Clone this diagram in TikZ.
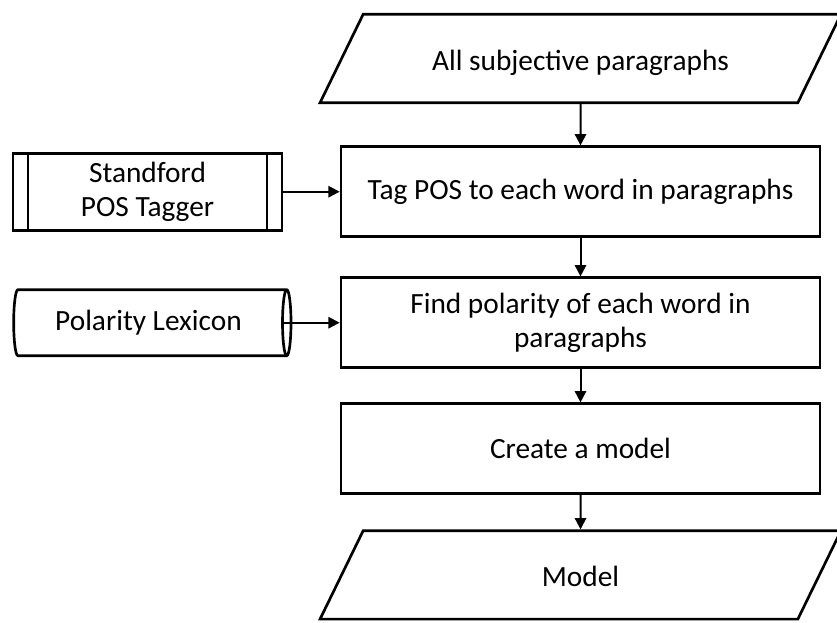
\documentclass[tikz,border=0pt]{standalone}
\usepackage{fontspec}
\setmainfont{Carlito}
\usetikzlibrary{arrows.meta,positioning,shapes.geometric}
\newcommand{\flowfont}{\fontsize{22}{26}\selectfont}
\tikzset{
  io/.style={draw,trapezium,trapezium left angle=64,trapezium right angle=116,
    text width=326pt,text height=19.75pt,text depth=1.75pt,inner xsep=0pt,inner ysep=22.4pt,
    line width=2pt,align=flush center,font=\flowfont},
  proc/.style={draw,rectangle,minimum width=359.25pt,minimum height=67.5pt,
    line width=2pt,align=center,font=\flowfont},
  subproc/.style={draw,rectangle,minimum width=201.75pt,minimum height=57.75pt,
    line width=2pt,align=center,font=\flowfont,
    path picture={
      \draw[line width=1.5pt] ([xshift=11.25pt]path picture bounding box.north west)
        -- ([xshift=11.25pt]path picture bounding box.south west);
      \draw[line width=1.5pt] ([xshift=-11.25pt]path picture bounding box.north east)
        -- ([xshift=-11.25pt]path picture bounding box.south east);}},
  store/.style={draw,cylinder,aspect=0.25,minimum height=208pt,minimum width=49.5pt,
    line width=2pt,align=center,font=\flowfont},
  arrow/.style={-{Triangle[length=8.5pt,width=8.5pt]},line width=1.5pt}
}
\begin{document}
\begin{tikzpicture}[x=0.75pt,y=0.75pt]
  \useasboundingbox (0,0) rectangle (837,-622);
  \node[io] (inp) at (580.5,-58.5) {All subjective paragraphs};
  \node[proc,below=31pt of inp] (tag) {Tag POS to each word in paragraphs};
  \node[proc,below=28.75pt of tag] (find) {Find polarity of each word in\\paragraphs};
  \node[proc,below=25pt of find] (create) {Create a model};
  \node[io,below=25.75pt of create] (out) {Model};
  \node[subproc,left=42.25pt of tag] (tagger) {Standford\\POS Tagger};
  \node[store,left=35.5pt of find] (lex) {Polarity Lexicon};
  \draw[arrow] (inp) -- (tag);
  \draw[arrow] (tag) -- (find);
  \draw[arrow] (find) -- (create);
  \draw[arrow] (create) -- (out);
  \draw[arrow] (tagger) -- (tag);
  \draw[arrow] ([xshift=-6pt]lex.east) -- (find);
\end{tikzpicture}
\end{document}
